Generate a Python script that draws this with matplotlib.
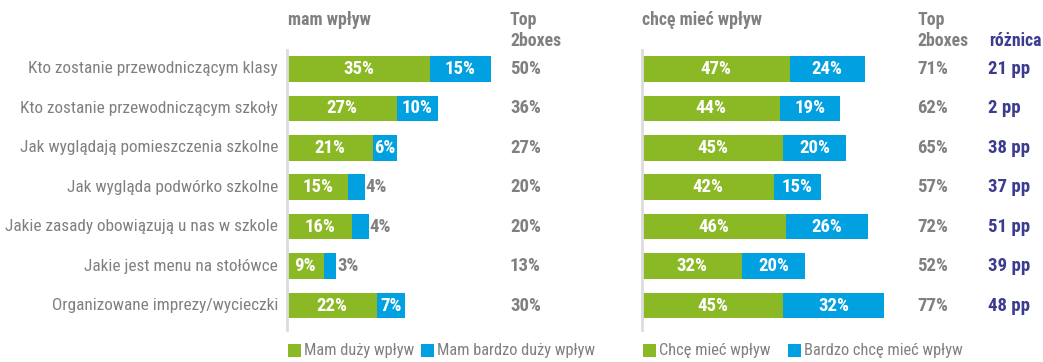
import matplotlib.pyplot as plt
import matplotlib.transforms as mtransforms
from matplotlib.patches import Rectangle

plt.rcParams['font.family'] = ['Roboto Condensed', 'Archivo Narrow',
                               'Barlow Semi Condensed', 'DejaVu Sans']

W, H = 1043, 362

categories = [
    "Kto zostanie przewodniczącym klasy",
    "Kto zostanie przewodniczącym szkoły",
    "Jak wyglądają pomieszczenia szkolne",
    "Jak wygląda podwórko szkolne",
    "Jakie zasady obowiązują u nas w szkole",
    "Jakie jest menu na stołówce",
    "Organizowane imprezy/wycieczki",
]
mam_duzy = [35, 27, 21, 15, 16, 9, 22]
mam_bardzo = [15, 10, 6, 4, 4, 3, 7]
mam_top2 = [50, 36, 27, 20, 20, 13, 30]
chce = [47, 44, 45, 42, 46, 32, 45]
bardzo_chce = [24, 19, 20, 15, 26, 20, 32]
chce_top2 = [71, 62, 65, 57, 72, 52, 77]
roznica = [21, 2, 38, 37, 51, 39, 48]

GREEN = "#8bb926"
BLUE = "#00a0e1"
GRAY = "#808080"
NAVY = "#3b3b8f"


def fx(px):
    return px / W


def fy(py):
    return 1 - py / H


fig = plt.figure(figsize=(W / 100, H / 100), dpi=100)

# panel geometry in pixels
top, bottom = 50, 330
ax_l = fig.add_axes([fx(287), fy(bottom), fx(245), (bottom - top) / H])
ax_r = fig.add_axes([fx(642), fy(bottom), fx(267), (bottom - top) / H])
ax_l.set_xlim(0, 245 / 4.08)
ax_r.set_xlim(0, 267 / 3.14)

rows = list(range(len(categories)))


def draw_panel(ax, first, second):
    ax.barh(rows, first, height=0.65, color=GREEN, linewidth=0)
    ax.barh(rows, second, left=first, height=0.65, color=BLUE, linewidth=0)
    ax.set_ylim(6.62, -0.48)
    for s in ["top", "right", "bottom"]:
        ax.spines[s].set_visible(False)
    ax.spines["left"].set_color("#dcdcdc")
    ax.spines["left"].set_linewidth(2)
    ax.set_xticks([])
    ax.set_yticks([])
    for i, (a, b) in enumerate(zip(first, second)):
        ax.text(a / 2, i, f"{a}%", ha="center", va="center", color="white",
                fontsize=13.5, fontweight="bold")
        if b >= 5:
            ax.text(a + b / 2, i, f"{b}%", ha="center", va="center",
                    color="white", fontsize=13.5, fontweight="bold")
        else:
            ax.text(a + b + 0.3, i, f"{b}%", ha="left", va="center",
                    color=GRAY, fontsize=13.5, fontweight="bold")


draw_panel(ax_l, mam_duzy, mam_bardzo)
draw_panel(ax_r, chce, bardzo_chce)

# category labels
tr_l = mtransforms.blended_transform_factory(fig.transFigure, ax_l.transData)
for i, c in enumerate(categories):
    ax_l.text(fx(278), i, c, transform=tr_l, ha="right", va="center",
              color=GRAY, fontsize=12.4)

# Top2boxes and difference columns
tr_r = mtransforms.blended_transform_factory(fig.transFigure, ax_r.transData)
for i in rows:
    ax_l.text(fx(510), i, f"{mam_top2[i]}%", transform=tr_l, ha="left",
              va="center", color=GRAY, fontsize=13.5, fontweight="bold")
    ax_r.text(fx(917), i, f"{chce_top2[i]}%", transform=tr_r, ha="left",
              va="center", color=GRAY, fontsize=13.5, fontweight="bold")
    ax_r.text(fx(988), i, f"{roznica[i]} pp", transform=tr_r, ha="left",
              va="center", color=NAVY, fontsize=13.5, fontweight="bold")

# headers
hdr = dict(color=GRAY, fontsize=12.8, fontweight="bold", va="baseline")
fig.text(fx(288), fy(25), "mam wpływ", **hdr)
fig.text(fx(642), fy(25), "chcę mieć wpływ", **hdr)
fig.text(fx(510), fy(25), "Top", **hdr)
fig.text(fx(510), fy(46), "2boxes", **hdr)
fig.text(fx(917), fy(25), "Top", **hdr)
fig.text(fx(917), fy(46), "2boxes", **hdr)
fig.text(fx(989), fy(46), "różnica", color=NAVY, fontsize=12.8,
         fontweight="bold", va="baseline")

# legend
legend_items = [
    (288, GREEN, "Mam duży wpływ"),
    (421, BLUE, "Mam bardzo duży wpływ"),
    (643, GREEN, "Chcę mieć wpływ"),
    (788, BLUE, "Bardzo chcę mieć wpływ"),
]
for x0, col, label in legend_items:
    fig.add_artist(Rectangle((fx(x0), fy(357)), fx(13), 13 / H,
                             transform=fig.transFigure, color=col, lw=0))
    fig.text(fx(x0 + 16), fy(351), label, color=GRAY, fontsize=11.8,
             va="center", ha="left")

fig.savefig("out.png", dpi=100)
